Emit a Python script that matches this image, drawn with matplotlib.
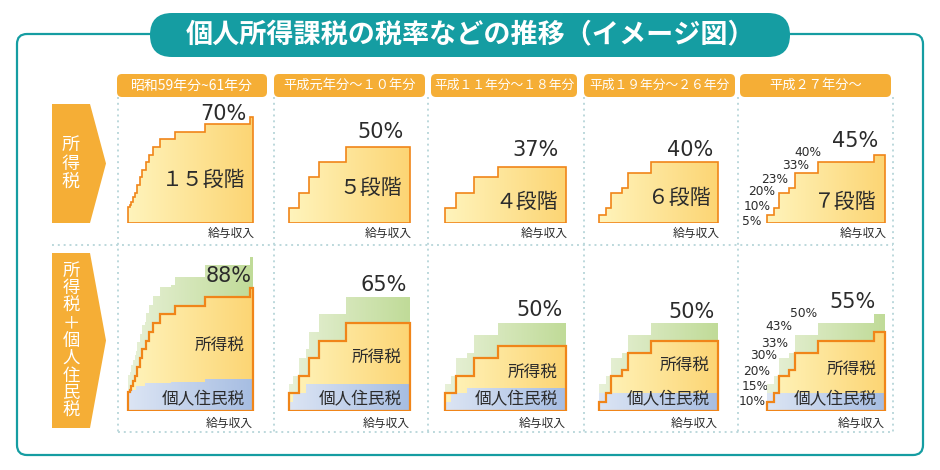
import numpy as np
import matplotlib
matplotlib.use("Agg")
import matplotlib.pyplot as plt
from matplotlib.patches import FancyBboxPatch, Polygon
from matplotlib.colors import LinearSegmentedColormap

plt.rcParams['font.family'] = ['Noto Sans CJK JP', 'DejaVu Sans']

# ---------------- data ----------------
title = "個人所得課税の税率などの推移（イメージ図）"
periods = ["昭和59年分~61年分", "平成元年分～１０年分", "平成１１年分～１８年分",
           "平成１９年分～２６年分", "平成２７年分～"]
row_labels = ["所得税", "所得税＋個人住民税"]
income_label = "給与収入"

# income tax brackets: schematic income edges and rates (%)
income_edges_s59 = [0, 1.5, 3, 4.5, 6.5, 9, 11.5, 14, 17.5, 21, 25, 32, 47, 77, 122, 125]
income_rates_s59 = [10.5, 12, 14, 17, 20, 25, 30, 35, 40, 45, 50, 55, 60, 65, 70]
income_edges_h01 = [0, 10, 20, 30, 57, 121]
income_rates_h01 = [10, 20, 30, 40, 50]
income_edges_h11 = [0, 11, 29, 53, 121]
income_rates_h11 = [10, 20, 30, 37]
income_edges_h19 = [0, 7, 12, 23, 29, 52, 119]
income_rates_h19 = [5, 10, 20, 23, 33, 40]
income_edges_h27 = [0, 7, 12, 22, 28, 51, 107, 118]
income_rates_h27 = [5, 10, 20, 23, 33, 40, 45]

# individual resident tax brackets
resident_edges_s59 = [0, 3, 8, 17, 43, 77, 125]
resident_rates_s59 = [10, 12, 14, 15.5, 16.5, 18]
resident_edges_h01 = [0, 4, 17, 121]
resident_rates_h01 = [5, 10, 15]
resident_edges_h11 = [0, 6, 22, 121]
resident_rates_h11 = [5, 10, 13]
resident_edges_h19 = [0, 119]
resident_rates_h19 = [10]
resident_edges_h27 = [0, 118]
resident_rates_h27 = [10]

income = [(income_edges_s59, income_rates_s59), (income_edges_h01, income_rates_h01),
          (income_edges_h11, income_rates_h11), (income_edges_h19, income_rates_h19),
          (income_edges_h27, income_rates_h27)]
resident = [(resident_edges_s59, resident_rates_s59), (resident_edges_h01, resident_rates_h01),
            (resident_edges_h11, resident_rates_h11), (resident_edges_h19, resident_rates_h19),
            (resident_edges_h27, resident_rates_h27)]

# ---------------- styles / layout ----------------
W, H = 940, 470
TEAL = '#159DA2'
ORANGE_BOX = '#F5AE36'
ORANGE_LINE = '#F08519'
DOT = '#BCD8DC'
TXT = '#2b2b2b'
YEL = ('#FFF4BC', '#FCD574')
GRN = ('#E8F1D8', '#C0DB98')
BLU = ('#DCE5F4', '#A6BDE2')
NUMFONT = ['DejaVu Sans']
FULLW = str.maketrans('0123456789', '０１２３４５６７８９')

col_left = [128, 288.5, 444.5, 599, 766.5]
header_x = [(117, 267), (274, 425), (431, 577), (584, 735), (740, 891)]
header_fs = [10, 9.5, 9.2, 9.2, 9.5]
row_base = [223, 410.5]
row_scale = [1.52, 1.75]  # px per %


def combine(e1, r1, e2, r2):
    edges = sorted(set(e1) | set(e2))
    rates = []
    for a, b in zip(edges[:-1], edges[1:]):
        m = (a + b) / 2
        i = np.searchsorted(e1, m) - 1
        j = np.searchsorted(e2, m) - 1
        rates.append(r1[i] + r2[j])
    return edges, rates


def step_verts(edges, rates):
    v = [(edges[0], 0)]
    for a, b, r in zip(edges[:-1], edges[1:], rates):
        v += [(a, r), (b, r)]
    v += [(edges[-1], 0)]
    return v


def grad_fill(ax, verts, cols, zorder):
    poly = Polygon(verts, closed=True, fc='none', ec='none')
    ax.add_patch(poly)
    cmap = LinearSegmentedColormap.from_list('g', list(cols))
    x0 = min(v[0] for v in verts)
    x1 = max(v[0] for v in verts)
    top = max(v[1] for v in verts)
    im = ax.imshow(np.linspace(0, 1, 256)[None, :], cmap=cmap,
                   extent=[x0, x1, 0, top], aspect='auto', origin='lower',
                   zorder=zorder, interpolation='bilinear')
    im.set_clip_path(poly)


fig = plt.figure(figsize=(W / 100, H / 100), dpi=100)
bg = fig.add_axes([0, 0, 1, 1])
bg.set_xlim(0, W)
bg.set_ylim(H, 0)
bg.axis('off')

# frame and title
bg.add_patch(FancyBboxPatch((17, 34), 906, 421, boxstyle="round,pad=0,rounding_size=10",
                            fill=False, ec=TEAL, lw=1.6))
bg.add_patch(FancyBboxPatch((150, 13), 640, 44, boxstyle="round,pad=0,rounding_size=22",
                            fc=TEAL, ec='none'))
bg.text(471, 35, title, color='white', fontsize=19.5, fontweight='bold',
        ha='center', va='center')

# headers
for (x0, x1), p, fs in zip(header_x, periods, header_fs):
    bg.add_patch(FancyBboxPatch((x0, 74), x1 - x0, 23, boxstyle="round,pad=0,rounding_size=5",
                                fc=ORANGE_BOX, ec='none'))
    bg.text((x0 + x1) / 2, 85.5, p, color='white', fontsize=fs, ha='center', va='center')

# dotted grid
dls = (0, (1, 2))
for x in [117.5, 273.5, 427.5, 584, 737.5, 893]:
    bg.plot([x, x], [97, 432], color=DOT, lw=1.4, ls=dls)
bg.plot([52, 893], [245, 245], color=DOT, lw=1.4, ls=dls)
bg.plot([117.5, 893], [432, 432], color=DOT, lw=1.4, ls=dls)

# row arrows
for (y0, y1), lab, fs in zip([(104, 223), (253, 428)], row_labels, [13, 12.5]):
    ym = (y0 + y1) / 2
    bg.add_patch(Polygon([(52, y0), (90, y0), (106, ym), (90, y1), (52, y1)],
                         closed=True, fc=ORANGE_BOX, ec='none'))
    n = len(lab)
    step = 18.3 if n <= 3 else 17.5
    for k, ch in enumerate(lab):
        bg.text(71, ym + (k - (n - 1) / 2) * step, ch, color='white', fontsize=fs,
                ha='center', va='center')

# per-panel text offsets (pixels)
top_pct_off = [(-7, 3), (-6, 15), (-7, 17), (-5, 12), (-6, 14)]
bot_pct_off = [(-1, -20), (-3, 12), (-3, 13), (-3, 11), (-9, 12)]
stage_dy = [43, 34.7, 21.3, 24.7, 21.3]
shotoku_dy = [63.8, 52.2, 37.2, 43.8, 40.5]

PAD, AW, AH = 30, 175, 165
for c in range(5):
    ie, ir = income[c]
    re_, rr = resident[c]
    ce, cr = combine(ie, ir, re_, rr)
    for row in range(2):
        base, sc = row_base[row], row_scale[row]
        ax = fig.add_axes([(col_left[c] - PAD) / W, 1 - base / H, AW / W, AH / H])
        ax.set_facecolor('none')
        ax.axis('off')
        iv = step_verts(ie, ir)
        if row == 0:
            grad_fill(ax, iv, YEL, 2)
            ax.add_patch(Polygon(iv, closed=True, fill=False, ec=ORANGE_LINE, lw=1.2, zorder=4))
            dx, dy = top_pct_off[c]
            ax.annotate(f"{max(ir):g}%", xy=(ie[-1], max(ir)), xytext=(dx, dy),
                        textcoords='offset pixels', ha='right', va='center',
                        fontsize=15, color=TXT, family=NUMFONT)
            ax.annotate(f"{len(ir)}".translate(FULLW) + "段階", xy=(ie[-1], 0),
                        xytext=(-7.5, stage_dy[c]),
                        textcoords='offset pixels', ha='right', va='center',
                        fontsize=15, color=TXT, zorder=5)
            ax.annotate(income_label, xy=(ie[-1], 0), xytext=(2, -10.3),
                        textcoords='offset pixels', ha='right', va='center',
                        fontsize=8.5, color=TXT)
        else:
            grad_fill(ax, step_verts(ce, cr), GRN, 1)
            grad_fill(ax, iv, YEL, 2)
            grad_fill(ax, step_verts(re_, rr), BLU, 3)
            ax.add_patch(Polygon(iv, closed=True, fill=False, ec=ORANGE_LINE, lw=1.6, zorder=4))
            dx, dy = bot_pct_off[c]
            ax.annotate(f"{max(cr):g}%", xy=(ce[-1], max(cr)), xytext=(dx, dy),
                        textcoords='offset pixels', ha='right', va='center',
                        fontsize=15, color=TXT, zorder=6, family=NUMFONT)
            ax.annotate("所得税", xy=(ie[-1], 0), xytext=(-8, shotoku_dy[c]),
                        textcoords='offset pixels', ha='right', va='center',
                        fontsize=12, color=TXT, zorder=6)
            ax.annotate("個人住民税", xy=(ie[-1], 0), xytext=(-8, 10.5),
                        textcoords='offset pixels', ha='right', va='center',
                        fontsize=12, color=TXT, zorder=6)
            ax.annotate(income_label, xy=(ie[-1], 0), xytext=(0, -12.5),
                        textcoords='offset pixels', ha='right', va='center',
                        fontsize=8.5, color=TXT)
        ax.set_xlim(-PAD, AW - PAD)
        ax.set_ylim(0, AH / sc)

# small rate labels in the last column
top_lab_pos = [(751.7, 221.3), (757, 206.7), (761.7, 191.3), (775, 179.2),
               (795.5, 165.8), (807.8, 152)]
for (x, y), r in zip(top_lab_pos, income_rates_h27[:-1]):
    bg.text(x, y, f"{r:g}%", fontsize=8.8, color=TXT, ha='center', va='center',
            family=NUMFONT)

ce5, cr5 = combine(income_edges_h27, income_rates_h27, resident_edges_h27, resident_rates_h27)
bot_lab_vals = [resident_rates_h27[0]] + list(cr5[:-1])
bot_lab_pos = [(751.7, 401.7), (755, 386.2), (757, 371.2), (763.3, 355.5),
               (775, 343.3), (779.3, 326.3), (803.7, 313.3)]
for (x, y), r in zip(bot_lab_pos, bot_lab_vals):
    bg.text(x, y, f"{r:g}%", fontsize=8.8, color=TXT, ha='center', va='center',
            family=NUMFONT)

fig.savefig("out.png", dpi=100)
